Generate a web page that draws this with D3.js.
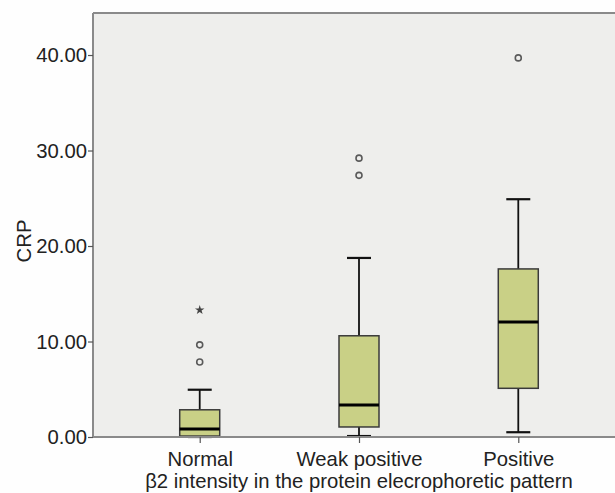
<!DOCTYPE html>
<html><head><meta charset="utf-8">
<script src="https://cdn.jsdelivr.net/npm/d3@7"></script>
<style>body{margin:0;background:#fefefe;}svg{display:block;font-family:"Liberation Sans",Arial,sans-serif;}</style>
</head><body>
<script>
const categories = ["Normal", "Weak positive", "Positive"];
const whiskerLow  = [0.0, 0.1, 0.5];
const q1          = [0.1, 1.05, 5.1];
const median      = [0.85, 3.35, 12.05];
const q3          = [2.85, 10.6, 17.6];
const whiskerHigh = [4.95, 18.75, 24.9];
const outlierCat  = ["Normal", "Normal", "Weak positive", "Weak positive", "Positive"];
const outlierVal  = [9.65, 7.85, 29.2, 27.4, 39.7];
const extremeCat  = ["Normal"];
const extremeVal  = [13.3];
const yTicks = [0, 10, 20, 30, 40];
const yLabel = "CRP";
const xLabel = "β2 intensity in the protein elecrophoretic pattern";

(function () {
const W = 615, H = 493;
const pL = 93, pR = 625, pT = 13, pB = 437;
const FS = 20.3;
const svg = d3.select("body").append("svg").attr("width", W).attr("height", H);
svg.append("rect").attr("width", W).attr("height", H).attr("fill", "#fefefe");

const x = d3.scalePoint().domain(categories).range([pL, pR]).padding(0.67);
const y = d3.scaleLinear().domain([0, 44.4]).range([pB, pT]);

svg.append("rect").attr("x", pL).attr("y", pT).attr("width", pR - pL).attr("height", pB - pT)
  .attr("fill", "#eeeeec");
svg.append("line").attr("x1", pL).attr("x2", pR).attr("y1", pT).attr("y2", pT)
  .attr("stroke", "#8a8a8a").attr("stroke-width", 2);

const boxW = 40, capW = 24;
const g = svg.append("g");
categories.forEach((c, i) => {
  const cx = x(c);
  g.append("line").attr("x1", cx).attr("x2", cx).attr("y1", y(q3[i])).attr("y2", y(whiskerHigh[i]))
    .attr("stroke", "#111").attr("stroke-width", 1.8);
  g.append("line").attr("x1", cx).attr("x2", cx).attr("y1", y(q1[i])).attr("y2", y(whiskerLow[i]))
    .attr("stroke", "#111").attr("stroke-width", 1.8);
  g.append("line").attr("x1", cx - capW/2).attr("x2", cx + capW/2).attr("y1", y(whiskerHigh[i])).attr("y2", y(whiskerHigh[i]))
    .attr("stroke", "#111").attr("stroke-width", 2.2);
  g.append("line").attr("x1", cx - capW/2).attr("x2", cx + capW/2).attr("y1", y(whiskerLow[i])).attr("y2", y(whiskerLow[i]))
    .attr("stroke", "#111").attr("stroke-width", 2.2);
  g.append("rect").attr("x", cx - boxW/2).attr("y", y(q3[i])).attr("width", boxW)
    .attr("height", y(q1[i]) - y(q3[i]))
    .attr("fill", "#c9d086").attr("stroke", "#3a3a3a").attr("stroke-width", 1.5);
  g.append("line").attr("x1", cx - boxW/2).attr("x2", cx + boxW/2).attr("y1", y(median[i])).attr("y2", y(median[i]))
    .attr("stroke", "#000").attr("stroke-width", 3);
});

outlierVal.forEach((v, i) => {
  g.append("circle").attr("cx", x(outlierCat[i])).attr("cy", y(v)).attr("r", 3)
    .attr("fill", "none").attr("stroke", "#5a5a5a").attr("stroke-width", 1.6);
});
extremeVal.forEach((v, i) => {
  g.append("path").attr("d", d3.symbol(d3.symbolStar, 28)())
    .attr("transform", `translate(${x(extremeCat[i])},${y(v)})`)
    .attr("fill", "#444");
});

const yAxis = svg.append("g").attr("transform", `translate(${pL},0)`)
  .call(d3.axisLeft(y).tickValues(yTicks).tickFormat(d3.format(".2f")).tickSize(5).tickPadding(1));
yAxis.select(".domain").attr("d", `M0,${pT}V${pB}`).attr("stroke", "#8a8a8a").attr("stroke-width", 2);
yAxis.selectAll(".tick line").attr("stroke", "#555").attr("stroke-width", 1.2);
yAxis.selectAll("text").attr("font-size", FS).attr("fill", "#222").attr("font-family", "Liberation Sans, Arial, sans-serif");

const xAxis = svg.append("g").attr("transform", `translate(0,${pB})`)
  .call(d3.axisBottom(x).tickSize(6).tickPadding(8.5));
xAxis.select(".domain").attr("d", `M${pL},0H${pR}`).attr("stroke", "#8a8a8a").attr("stroke-width", 2);
xAxis.selectAll(".tick line").attr("stroke", "#555").attr("stroke-width", 1.2);
xAxis.selectAll("text").attr("font-size", FS).attr("fill", "#222").attr("dy", "0.71em")
  .attr("font-family", "Liberation Sans, Arial, sans-serif");

svg.append("text").attr("x", (pL + pR) / 2).attr("y", 487.5).attr("text-anchor", "middle")
  .attr("font-size", FS).attr("fill", "#222").text(xLabel);
svg.append("text").attr("transform", "translate(31,241) rotate(-90)").attr("text-anchor", "middle")
  .attr("font-size", FS).attr("fill", "#222").text(yLabel);
})();
</script>
</body></html>
